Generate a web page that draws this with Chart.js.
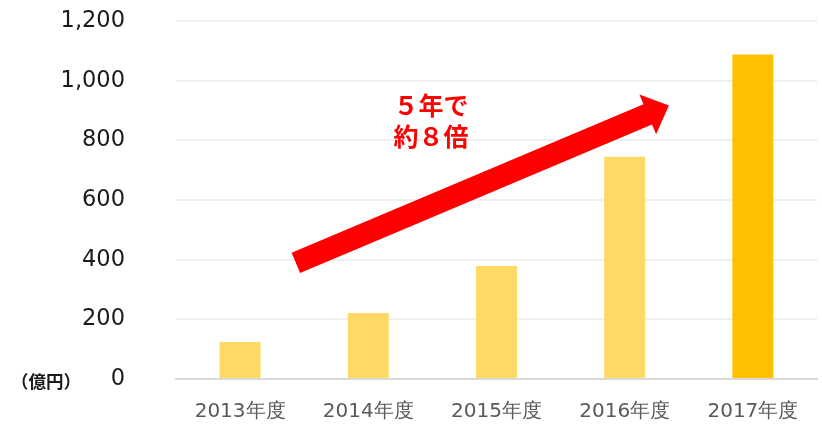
<!DOCTYPE html>
<html><head><meta charset="utf-8">
<script src="https://cdn.jsdelivr.net/npm/chart.js@4/dist/chart.umd.min.js"></script>
<style>html,body{margin:0;padding:0;background:#fff}#wrap{width:822px;height:433px}</style>
</head><body><div id="wrap"><canvas id="c"></canvas></div>
<script>
const categories = ['2013年度','2014年度','2015年度','2016年度','2017年度'];
const values = [124, 221, 379, 745, 1088];
const barColors = ['#FFD966','#FFD966','#FFD966','#FFD966','#FFC000'];
const yTicks = [0, 200, 400, 600, 800, 1000, 1200];
const unitLabel = '（億円）';
const noteLines = ['５年で', '約８倍'];
// arrow anchors in data space: [category index, value]
const arrowFrom = [0.435, 389];
const arrowTo = [3.345, 917];
const noteAt = [1.49, 916];

const overlay = {
  id: 'overlay',
  afterDatasetsDraw(chart) {
    const {ctx, scales:{x, y}} = chart;
    const cw = x.getPixelForValue(1) - x.getPixelForValue(0);
    const px = i => x.getPixelForValue(0) + i * cw;
    const S = {x: px(arrowFrom[0]), y: y.getPixelForValue(arrowFrom[1])};
    const T = {x: px(arrowTo[0]), y: y.getPixelForValue(arrowTo[1])};
    const dx = T.x - S.x, dy = T.y - S.y, L = Math.hypot(dx, dy);
    const u = {x: dx / L, y: dy / L}, n = {x: -u.y, y: u.x};
    const sw = 11, hw = 21.5, hl = 23;
    const B = {x: T.x - u.x * hl, y: T.y - u.y * hl};
    const pts = [
      [S.x + n.x * sw, S.y + n.y * sw], [B.x + n.x * sw, B.y + n.y * sw],
      [B.x + n.x * hw, B.y + n.y * hw], [T.x, T.y],
      [B.x - n.x * hw, B.y - n.y * hw], [B.x - n.x * sw, B.y - n.y * sw],
      [S.x - n.x * sw, S.y - n.y * sw]];
    ctx.save();
    ctx.fillStyle = '#FF0000';
    ctx.beginPath();
    pts.forEach((p, i) => i ? ctx.lineTo(p[0], p[1]) : ctx.moveTo(p[0], p[1]));
    ctx.closePath(); ctx.fill();
    ctx.font = 'bold 25px "Noto Sans CJK JP"';
    ctx.textAlign = 'center'; ctx.textBaseline = 'middle';
    const tx = px(noteAt[0]), ty = y.getPixelForValue(noteAt[1]);
    ctx.fillText(noteLines[0], tx, ty);
    ctx.fillText(noteLines[1], tx, ty + 31);
    ctx.fillStyle = '#1a1a1a';
    ctx.font = 'bold 17.5px "Noto Sans CJK JP"';
    ctx.textAlign = 'left';
    ctx.fillText(unitLabel, 11, y.getPixelForValue(0) + 2);
    ctx.restore();
  }
};

new Chart(document.getElementById('c'), {
  type: 'bar',
  data: { labels: categories, datasets: [{ data: values, backgroundColor: barColors, barPercentage: 0.32, categoryPercentage: 1 }] },
  options: {
    responsive: true, maintainAspectRatio: false, animation: false,
    layout: { padding: { top: 21, right: 5, left: 0, bottom: 0 } },
    plugins: { legend: { display: false }, tooltip: { enabled: false } },
    scales: {
      x: {
        grid: { display: false, drawTicks: false },
        border: { color: '#D9D9D9', width: 2 },
        ticks: { color: '#595959', font: { family: 'DejaVu Sans', size: 20 }, padding: 21 },
        afterFit(s) { s.height = 54; s.paddingLeft = 0; s.paddingRight = 0; }
      },
      y: {
        min: 0, max: 1200,
        afterBuildTicks(s) { s.ticks = yTicks.map(v => ({ value: v })); },
        grid: { color: c => c.tick.value === 0 ? 'rgba(0,0,0,0)' : '#EFEFEF', lineWidth: 2, drawTicks: false },
        border: { display: false },
        ticks: { color: '#1a1a1a', font: { family: 'DejaVu Sans', size: 22.5 }, padding: 51,
          callback: v => v.toLocaleString('en-US') },
        afterFit(s) { s.width = 176; s.paddingTop = 0; s.paddingBottom = 0; }
      }
    }
  },
  plugins: [overlay]
});
</script></body></html>
